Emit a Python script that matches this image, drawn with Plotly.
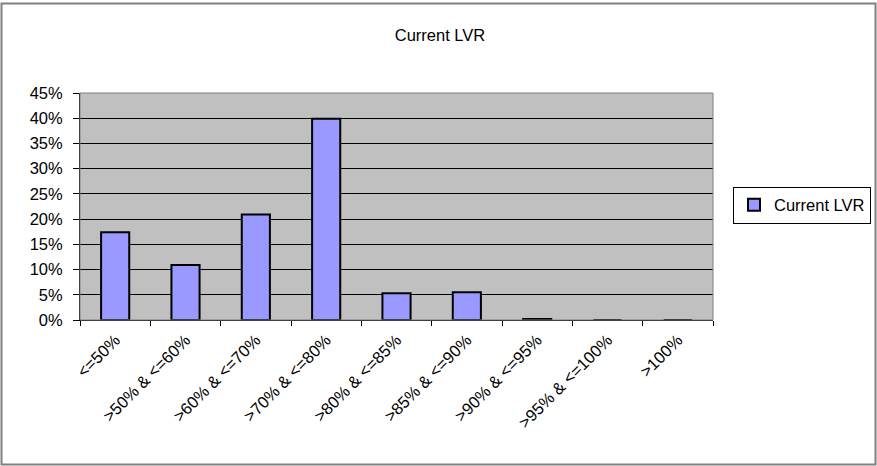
import plotly.graph_objects as go

categories = ["<=50%", ">50% & <=60%", ">60% & <=70%", ">70% & <=80%", ">80% & <=85%",
              ">85% & <=90%", ">90% & <=95%", ">95% & <=100%", ">100%"]
values = [0.174, 0.109, 0.209, 0.399, 0.053, 0.055, 0.002, 0.0, 0.0]
series_name = "Current LVR"
y_ticks = [0, 0.05, 0.10, 0.15, 0.20, 0.25, 0.30, 0.35, 0.40, 0.45]
y_ticklabels = ["0%", "5%", "10%", "15%", "20%", "25%", "30%", "35%", "40%", "45%"]

W, H = 877, 466
ml, mr, mt, mb = 80, 164, 93, 146
pw, ph = W - ml - mr, H - mt - mb
FS = 16.5

def px_to_paper_x(px):
    return (px - ml) / pw

def px_to_paper_y(py):
    return (H - mb - py) / ph

fig = go.Figure()
fig.add_trace(go.Bar(
    x=categories, y=values, name=series_name,
    marker=dict(color="#9999FF", line=dict(color="black", width=2)),
    width=0.4, showlegend=True, hoverinfo="skip",
))

fig.update_layout(
    width=W, height=H,
    margin=dict(l=ml, r=mr, t=mt, b=mb, pad=0, autoexpand=False),
    paper_bgcolor="white", plot_bgcolor="#C0C0C0",
    font=dict(family="Liberation Sans, Arial, sans-serif", size=FS, color="black"),
    title=dict(text="Current LVR", x=px_to_paper_x(440), xref="paper", xanchor="center",
               y=1 - 35 / H, yanchor="middle", font=dict(size=FS)),
    showlegend=True,
    legend=dict(x=px_to_paper_x(733), xanchor="left", y=px_to_paper_y(205), yanchor="middle",
                bordercolor="black", borderwidth=1, bgcolor="white",
                font=dict(size=FS), itemwidth=30),
    bargap=0.6,
    xaxis=dict(type="category", tickangle=-45, ticks="outside", ticklen=5, tickcolor="black",
               tickson="boundaries", showline=True, linecolor="black", linewidth=1,
               showgrid=False, range=[-0.5, 8.5], fixedrange=True, automargin=False,
               ticklabelstandoff=3),
    yaxis=dict(range=[0, 0.45], tickvals=y_ticks, ticktext=y_ticklabels, ticks="outside",
               ticklen=6, tickcolor="black", showline=True, linecolor="black", linewidth=1,
               showgrid=True, gridcolor="black", gridwidth=1, zeroline=False, fixedrange=True,
               automargin=False, ticklabelstandoff=7),
    shapes=[
        dict(type="rect", xref="x domain", yref="y domain", x0=0, x1=1, y0=0, y1=1,
             line=dict(color="#808080", width=1), layer="above"),
        dict(type="rect", xref="paper", yref="paper",
             x0=px_to_paper_x(1.5), x1=px_to_paper_x(875.5),
             y0=px_to_paper_y(464.5), y1=px_to_paper_y(3.5),
             line=dict(color="#808080", width=2), layer="below"),
    ],
)

fig.write_html("out.html", config={"displayModeBar": False},
               post_script="document.body.style.margin='0';document.body.style.overflow='hidden';")
